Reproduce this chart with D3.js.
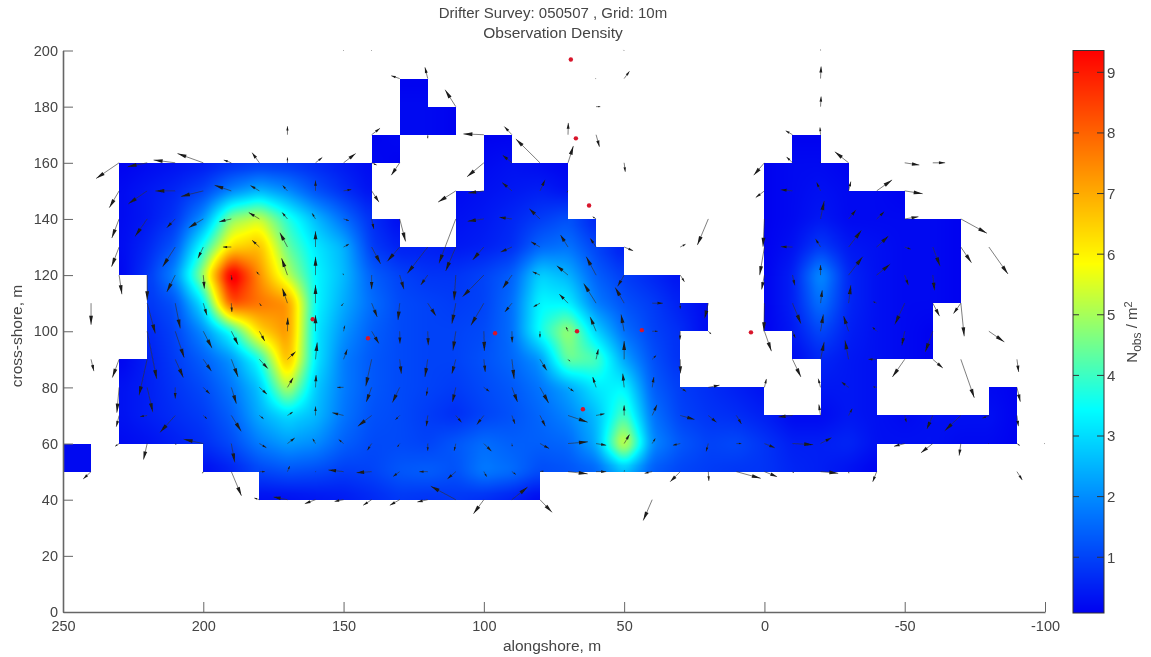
<!DOCTYPE html>
<html>
<head>
<meta charset="utf-8">
<script src="https://d3js.org/d3.v7.min.js"></script>
<style>
  html, body { margin: 0; background: #fff; }
  text { font-family: "Liberation Sans", Arial, sans-serif; fill: #444; }
</style>
</head>
<body>
<div id="chart"></div>
<script>
var w = 1151,
    h = 657;

// observation density on the 10 m grid, one list per cross-shore row.
// each span is [first alongshore x, value, value, ...] stepping 10 m toward negative x
var y190 = [[130, .1, .1]];
var y180 = [[130, .2, .2, .1]];
var y170 = [[140, .1, .2, .2, .1, .1, .1], [-10, .1, .1]];
var y160 = [[230, .1, .2, .3, .4, .6, .7, .7, .6, .4, .2, .1], [100, .2, .3, .2, .1], [0, .1, .2, .2, .1]];
var y150 = [[230, .2, .4, .6, 1, 1.9, 2.5, 2, 1.2, .7, .3], [110, .2, .3, .4, .5, .3], [0, .1, .2, .3, .2, .2, .1]];
var y140 = [[230, .2, .4, .8, 2.1, 4.8, 5.4, 3.8, 2.6, 1.6, .7, .2], [110, .3, .4, .6, .9, 1.2, .5], [0, .1, .2, .4, .2, .2, .2, .2, .1]];
var y130 = [[230, .2, .6, 1.3, 3.7, 6.3, 6.8, 4.4, 3.2, 2.5, .9, .5, .5, .4, .5, .7, 1.5, 1.7, 1, .4], [0, .1, .3, .9, .4, .3, .2, .2, .1]];
var y120 = [[230, .1, .8, 2, 5, 10, 7.4, 5.2, 3.4, 2.6, 1.4, 1, .8, .8, 1, 1.4, 2.9, 2.5, 1.4, .9, .6, .3], [0, .1, .5, 2.1, .6, .3, .2, .2, .1]];
var y110 = [[220, .8, 1.2, 3.2, 8.4, 7.8, 7.4, 3.4, 2.4, 1.6, 1.1, 1, .9, 1, 1.6, 3.4, 3.3, 1.8, 1.2, .9, .5, .2], [0, .1, .5, 1.7, .6, .3, .2, .2, .1]];
var y100 = [[220, .6, 1, 2, 3.6, 6.4, 7.4, 3.2, 2.1, 1.4, 1.1, 1, 1, 1.1, 1.6, 3.6, 5, 2.9, 1.6, 1, .7, .2], [0, .1, .4, 1.1, .5, .3, .2, .1]];
var y90 = [[230, .1, .5, .9, 1.4, 2.1, 3.6, 7, 3.2, 1.8, 1.3, 1.1, 1, 1, 1.2, 1.5, 2.1, 4.5, 4.2, 2.3, 1.2, .7], [-10, .2, .6, .4, .3, .2, .1]];
var y80 = [[230, .3, .5, .8, 1.1, 1.7, 2.7, 5.3, 2.8, 1.8, 1.3, 1.1, 1, .9, 1.1, 1.3, 1.7, 2.3, 3.2, 3.4, 1.4, .9, .7, .5, .3], [-20, .4, .4, .3], [-80, .2, .1]];
var y70 = [[230, .3, .5, .7, .9, 1.4, 2.4, 3, 2.6, 1.7, 1.2, 1.1, .9, .7, 1, 1.2, 1.5, 1.9, 2.6, 4.2, 1.7, 1, .8, .7, .5, .2, .2, .4, .3, .2, .3, .3, .3, .1]];
var y60 = [[250, .2, .2, .2, .3, .5, .7, 1.1, 1.8, 2.2, 2, 1.4, 1.1, 1.1, 1, 1.3, 1.6, 1.4, 1.4, 1.5, 2.4, 5.7, 2, 1.3, 1, 1.1, .8, .5, .5, .6, .3, .3, .3, .2, .2, .1]];
var y50 = [[250, .2, .2], [200, .2, .5, 1, 1.2, 1.1, .9, 1, 1.3, 1.4, 1.2, 1.8, 1.6, 1.1, 1.2, 1.4, 2.4, 1.3, 1, .9, .8, .8, .6, .5, .3, .1]];
var y40 = [[180, .2, .2, .3, .4, .6, .8, .7, .8, .6, .4, .1]];

var densityRows = [[190, y190], [180, y180], [170, y170], [160, y160], [150, y150], [140, y140], [130, y130],
  [120, y120], [110, y110], [100, y100], [90, y90], [80, y80], [70, y70], [60, y60], [50, y50], [40, y40]];

// mean drift vectors: [x, y, u, v], all in metres, tail on the grid node
var drift = [
  [150,200,.2,0],[140,200,.2,0],[60,190,.2,0],[50,200,.2,.2],[-20,200,0,.3],
  [130,190,3,1],[120,190,1,4],[50,190,-1.9,2.6],[-20,190,-.2,4.3],
  [110,180,3.8,6],[60,180,-1.5,0],[-20,180,-.2,3.6],
  [170,170,0,3],[140,170,-3,2.3],[120,170,0,-1.3],[100,170,7.3,.3],[90,170,2.7,2.9],[70,170,-.1,4.2],[60,170,-1.2,-4.3],[-20,170,.2,2.6],[-10,170,2.4,1.4],
  [230,160,8.2,-5.6],[220,160,7,-1.4],[210,160,7.7,1],[200,160,9.2,3.3],[190,160,2.7,1],[180,160,2.6,3.6],[170,160,0,1.9],[160,160,-2.4,1.9],[150,160,-4.3,3.3],[140,160,-1.8,-.8],[130,160,3,-4.4],
  [100,160,6,-5],[90,160,3.3,2.7],[80,160,8.6,8.5],[70,160,-1.9,6],[50,160,-.4,-3.2],[0,160,3.8,-4.4],[-10,160,2.1,2.1],[-20,160,.1,.3],[-30,160,4.9,3.9],[-50,160,-5.2,-.8],[-60,160,-4.4,0],
  [230,150,3.5,-6],[220,150,6.7,-4.6],[210,150,7.1,0],[200,150,8,-2],[190,150,6,2],[180,150,3.2,1.9],[170,150,1.7,1.9],[160,150,0,3.7],[150,150,-2.8,.5],[140,150,-2.6,-4],
  [110,150,6.3,-4],[100,150,5.6,-.8],[90,150,3.5,3],[80,150,-1.8,3.9],[70,150,.4,-.5],[0,150,3.1,-2.4],[-10,150,4.2,.4],[-20,150,1.4,3],[-30,150,-.8,3.3],[-40,150,-5.5,3.9],[-50,150,-6.4,-1],
  [230,140,2.6,-6.8],[220,140,4.3,-6.2],[210,140,3,-3.1],[200,140,5.2,-3.1],[190,140,4.3,-1],[180,140,3.8,2.3],[170,140,1.9,2.3],[160,140,1.2,2],[150,140,-1.9,-.6],[140,140,-.8,-3.6],[130,140,-2.1,-8],
  [110,140,6,-15.8],[100,140,5.8,-.8],[90,140,4.5,.6],[80,140,3.8,3.6],[60,140,1.2,.8],[20,140,3.9,-9.3],[0,140,.5,-9.9],[-20,140,-1.3,6.4],[-30,140,-2.6,3.2],[-40,140,-2.7,2.6],[-50,140,-4.9,.8],[-70,140,-9.3,-5.1],
  [230,130,2.7,-7],[210,130,4.5,-7],[200,130,1.9,-4],[190,130,3,0],[180,130,2.6,2.4],[170,130,2.7,5.1],[160,130,0,5.6],[150,130,-1.9,1],[140,130,-3.2,-6],[130,130,4.4,-5.1],
  [120,130,7.3,-9.4],[110,130,3.6,-8.5],[100,130,4,-4.6],[90,130,4,-1.8],[80,130,3.2,1.9],[70,130,2.7,4.3],[60,130,2.1,3.1],[50,130,-3.2,-1.3],[30,130,-1.9,1],
  [0,130,1.7,-10],[-10,130,4.2,.1],[-20,130,1.8,2.9],[-30,130,-4.6,6],[-40,130,-4.2,3.9],[-50,130,-2.1,-.8],[-60,130,-2.6,-6.8],[-70,130,-3.8,-5.6],[-80,130,-6.8,-9.6],
  [230,120,-1,-6.8],[220,120,0,-9],[210,120,3,-6],[200,120,-.4,-4.8],[190,120,-.2,-1.8],[180,120,1,1.2],[170,120,2.1,6],[160,120,0,6.5],[150,120,.2,.5],[140,120,0,-5],
  [130,120,-1.5,-5],[120,120,2.5,-3.5],[110,120,.6,-9],[100,120,7.6,-7.7],[90,120,3.3,-4.7],[80,120,2.6,1.2],[70,120,4,3.3],[60,120,3.5,6.5],[50,120,2.3,-4],[30,120,-1.5,-2.4],
  [0,120,1,-5.1],[-10,120,-.8,-3.6],[-20,120,0,3.6],[-30,120,-5,6.5],[-40,120,-4.8,3.9],[-50,120,-1.3,-3.6],[-60,120,-.6,-5.4],
  [240,110,0,-7.7],[220,110,-2.9,-10.8],[210,110,-1.8,-9],[200,110,-1.3,-4.3],[190,110,-.2,-3.1],[180,110,-.7,-1],[170,110,1.8,5.2],[160,110,0,6.5],[150,110,.8,-1],[140,110,-2,-4.9],
  [130,110,.6,-6],[120,110,-2.9,-4.5],[110,110,1.4,-7.3],[100,110,4.6,-7.9],[90,110,2.5,-3.1],[80,110,2.3,-1.3],[70,110,3.1,3.2],[60,110,4.4,7],[50,110,3.2,5.6],[40,110,-3.8,0],[30,110,0,-2],[20,110,1.3,-5.4],
  [0,110,.2,-10],[-10,110,-3,-7.3],[-20,110,-.6,4.6],[-30,110,-.8,6.4],[-40,110,1.2,.5],[-50,110,3.5,-7.5],[-60,110,-2.4,-4.6],[-70,110,-1.2,-11.8],[-70,110,2.6,-3.7],
  [220,100,-3.4,-17],[210,100,-3.2,-9.4],[200,100,-3.1,-6],[190,100,-2.4,-4.8],[180,100,-1.9,-3.5],[170,100,-.1,4.8],[160,100,0,5.7],[150,100,-.4,2],[140,100,-2.6,-4.4],
  [130,100,-.1,-4.4],[120,100,-.2,-5],[110,100,1,-6.8],[100,100,-.2,-7],[90,100,-.1,-4],[80,100,0,-2.2],[70,100,.7,1.5],[60,100,2.1,5.1],[50,100,1.1,6],[40,100,-2,0],[30,100,.1,-3],[20,100,-1,-1],
  [0,100,-2.5,-7.1],[-10,100,-1,-2.4],[-20,100,-1,6],[-30,100,1.8,5.4],[-40,100,1.5,1.5],[-50,100,1,-5],[-60,100,2.7,-7.4],[-80,100,-5.5,-3.8],
  [240,90,-1,-4.2],[230,90,2.4,-6.5],[220,90,2.9,-12.8],[210,90,-2.9,-6.5],[200,90,-2.9,-4.2],[190,90,-2.4,-6.3],[180,90,-3,-3.3],[170,90,-2.9,2.7],[160,90,-.6,6],[150,90,-1.3,3.5],[140,90,2.1,-9.6],
  [130,90,-.6,-5.1],[120,90,1,-6.3],[110,90,1.4,-5.1],[100,90,-.5,-4.5],[90,90,-.8,-7],[80,90,-2.4,-3.9],[70,90,-.7,-.7],[60,90,-.8,3.6],[50,90,0,6.5],[40,90,-1.4,1.4],[30,90,-.1,-5],
  [-10,90,-3,-6.3],[-20,90,-1.3,6.2],[-30,90,1.3,6.8],[-40,90,3,0],[-50,90,4.4,-6.3],[-60,90,-3.6,-3.1],[-70,90,-4.8,-13.7],[-90,90,-.6,-4.5],
  [230,80,.8,-9],[220,80,-2,-8.8],[210,80,0,-4],[200,80,-2.3,-2.3],[190,80,-1.8,-5.8],[180,80,-2.7,-2.4],[170,80,-2,3.4],[160,80,-.2,4.4],[150,80,2.3,0],[140,80,1.9,-5.2],
  [130,80,2.6,-5.4],[120,80,.5,-3],[110,80,1.2,-5.2],[100,80,-1.9,-1.4],[90,80,-2,-5.2],[80,80,-3.1,-5.6],[70,80,-2,-1.4],[60,80,1.2,3.7],[50,80,.5,4.9],[40,80,-.6,3.7],[30,80,-2.1,-1.5],[20,80,-4,.8],
  [0,80,-.7,3],[-20,80,.8,3.1],[-30,80,2.5,1.9],[-40,80,1.2,.2],[-90,80,-1.2,-5.1],
  [230,70,1,-4],[220,70,2.5,-.4],[210,70,5.4,-6],[200,70,-1.3,-1.2],[190,70,-3.5,-5.6],[180,70,-1.5,-1.2],[170,70,-1.9,1.2],[160,70,0,3.2],[150,70,4,1],[140,70,4.9,-3.8],
  [130,70,1.5,-1.5],[120,70,.5,-3.8],[110,70,-2,-2.4],[100,70,2.5,-3.2],[90,70,-1.1,-3],[80,70,-1.9,-3.8],[70,70,-7,-2.4],[60,70,-3,.6],[50,70,0,3.6],[40,70,-1.7,3.8],[30,70,-5.1,-1.4],[20,70,-2.9,-2.4],[10,70,-1.8,-3],
  [-10,70,5,-.5],[-20,70,.6,3.9],[-30,70,-1.3,2.4],[-50,70,-.6,-2.4],[-60,70,2.1,-4.8],[-70,70,5.7,-5.4],[-80,70,2.3,-1],[-90,70,-.5,-3.8],
  [230,60,1.4,-1],[220,60,1.3,-5.7],[210,60,-.3,-.4],[200,60,7,1.5],[190,60,-1.2,-6.7],[180,60,-2.5,-1.5],[170,60,-2.6,2],[160,60,1,1.7],[150,60,1.7,1.4],[140,60,1.5,-2.4],
  [130,60,.8,-1.2],[120,60,0,-2.6],[110,60,.6,-2.6],[100,60,-2.7,-2.7],[90,60,-.1,-1],[80,60,-3.3,-1.8],[70,60,-7.1,.6],[60,60,-3.6,-.6],[50,60,-1.9,3.2],[40,60,-1.1,1.8],[30,60,2.6,-.6],[20,60,.8,-2.8],[10,60,-1.8,0],
  [0,60,-3.7,-1.5],[-10,60,-7.4,-.4],[-20,60,-3.9,2.1],[-50,60,3.8,-1],[-60,60,4.2,-3.3],[-70,60,.6,-4.3],[-80,60,.2,0],[-90,60,-1,-.7],[-100,60,.2,0],
  [240,50,2.8,-2.6],[200,50,.3,-.6],[190,50,-3.6,-8.6],[180,50,-2,0],[170,50,-.8,2],[160,50,-.2,.1],[150,50,5.4,.6],[140,50,5.4,-.4],
  [130,50,2.3,-1.7],[120,50,3,0],[110,50,3,-2.6],[100,50,-1,-1.8],[90,50,-1.4,-1],[80,50,-1.3,.2],[70,50,-7,-.8],[60,50,-3.6,0],[50,50,-.1,.4],[40,50,2.7,-.6],[30,50,3.6,-3.6],[20,50,-.2,-3.3],[10,50,-8.7,-2.4],
  [0,50,-4.5,-1.8],[-10,50,-.4,-.5],[-20,50,-6.3,-.6],[-30,50,-.1,-.6],[-40,50,1.4,-3.6],[-90,50,-1.9,-3],
  [180,40,1.8,.6],[170,40,5,1],[160,40,3.8,-1.4],[150,40,3.2,-.6],[140,40,3,-2],[130,40,3.5,-2],[120,40,3.7,-.8],[110,40,8.9,4.8],[100,40,3.7,-5],[90,40,-5.6,4.5],[80,40,-4.3,-4.5],[40,40,3.2,-7.4]
];

// red survey markers
var markerX = [69, 67.2, 62.5, 161, 141.3, 96, 66.8, 43.7, 64.7, 4.8];
var markerY = [196.8, 168.7, 144.8, 104.3, 97.5, 99.3, 100, 100.4, 72.2, 99.6];

// colour stops
var colorValues = [0.08, 1.75, 3.45, 4.65, 5.85, 7.6, 9.36];
var colorStops = ["#0000f0", "#0078ff", "#00ffff", "#80ff80", "#ffff00", "#ff8000", "#ff0000"];

var xTicks = [250, 200, 150, 100, 50, 0, -50, -100];
var yTicks = [0, 20, 40, 60, 80, 100, 120, 140, 160, 180, 200];
var barTicks = [1, 2, 3, 4, 5, 6, 7, 8, 9];

var x = d3.scaleLinear().domain([250, -100]).range([63, 1045]),
    y = d3.scaleLinear().domain([0, 200]).range([612, 50.5]),
    barY = d3.scaleLinear().domain([0.08, 9.36]).range([613, 50.5]),
    color = d3.scaleLinear().domain(colorValues).range(colorStops).clamp(true);

var svg = d3.select("#chart").append("svg")
    .attr("width", w)
    .attr("height", h)
    .style("display", "block");

var defs = svg.append("defs");
softFilter("soft", 0.55);
softFilter("softText", 0.35);

function softFilter(id, sd) {
  defs.append("filter")
      .attr("id", id)
      .attr("x", "-5%").attr("y", "-5%").attr("width", "110%").attr("height", "110%")
    .append("feGaussianBlur")
      .attr("stdDeviation", sd);
}

// node lookup
var nodes = new Map();
densityRows.forEach(function(row) {
  row[1].forEach(function(span) {
    span.slice(1).forEach(function(v, i) {
      nodes.set(key(span[0] - i * 10, row[0]), v);
    });
  });
});

function key(a, b) { return a + "," + b; }

// shaded field: a cell is painted only when its four nodes exist.
// the bilinear surface gets a masked box smoothing so cell seams don't show
function drawField() {
  var x0 = Math.round(x.range()[0]), x1 = Math.round(x.range()[1]),
      y0 = Math.round(y.range()[1]), y1 = Math.round(y.range()[0]),
      cw = x1 - x0, ch = y1 - y0,
      vals = new Float32Array(cw * ch),
      mask = new Uint8Array(cw * ch);

  for (var py = 0; py < ch; py++) {
    for (var px = 0; px < cw; px++) {
      var gx = x.invert(px + x0 + 0.5), gy = y.invert(py + y0 + 0.5),
          xl = Math.floor(gx / 10) * 10, yl = Math.floor(gy / 10) * 10,
          a = nodes.get(key(xl, yl)), b = nodes.get(key(xl + 10, yl)),
          c = nodes.get(key(xl, yl + 10)), d = nodes.get(key(xl + 10, yl + 10));
      if (a === undefined || b === undefined || c === undefined || d === undefined) continue;
      var tx = (gx - xl) / 10, ty = (gy - yl) / 10;
      vals[py * cw + px] = (a * (1 - tx) + b * tx) * (1 - ty) + (c * (1 - tx) + d * tx) * ty;
      mask[py * cw + px] = 1;
    }
  }

  vals = smooth(vals, mask, cw, ch, 1, 0, 6);
  vals = smooth(vals, mask, cw, ch, 0, 1, 6);

  var canvas = document.createElement("canvas");
  canvas.width = cw;
  canvas.height = ch;
  var ctx = canvas.getContext("2d"),
      img = ctx.createImageData(cw, ch);
  for (var i = 0; i < cw * ch; i++) {
    if (!mask[i]) continue;
    var rgb = d3.rgb(color(vals[i]));
    img.data[i * 4] = rgb.r;
    img.data[i * 4 + 1] = rgb.g;
    img.data[i * 4 + 2] = rgb.b;
    img.data[i * 4 + 3] = 255;
  }
  ctx.putImageData(img, 0, 0);
  svg.append("image")
      .attr("x", x0)
      .attr("y", y0)
      .attr("width", cw)
      .attr("height", ch)
      .attr("href", canvas.toDataURL());
}

function smooth(vals, mask, cw, ch, sx, sy, r) {
  var out = new Float32Array(cw * ch);
  for (var py = 0; py < ch; py++) {
    for (var px = 0; px < cw; px++) {
      if (!mask[py * cw + px]) continue;
      var sum = 0, n = 0;
      for (var k = -r; k <= r; k++) {
        var qx = px + k * sx, qy = py + k * sy;
        if (qx < 0 || qy < 0 || qx >= cw || qy >= ch || !mask[qy * cw + qx]) continue;
        sum += vals[qy * cw + qx];
        n++;
      }
      out[py * cw + px] = sum / n;
    }
  }
  return out;
}
drawField();

// markers
svg.append("g").selectAll("circle")
    .data(markerX)
    .enter().append("circle")
    .attr("cx", function(d) { return x(d); })
    .attr("cy", function(d, i) { return y(markerY[i]); })
    .attr("r", 2.2)
    .attr("fill", "#d8142c")
    .attr("filter", "url(#softText)");

// arrows
var arrows = svg.append("g").attr("filter", "url(#soft)");

arrows.selectAll("line")
    .data(drift)
    .enter().append("line")
    .attr("x1", function(d) { return x(d[0]); })
    .attr("y1", function(d) { return y(d[1]); })
    .attr("x2", function(d) { return x(d[0] + d[2]); })
    .attr("y2", function(d) { return y(d[1] + d[3]); })
    .attr("stroke", "#333")
    .attr("stroke-opacity", 0.7)
    .attr("stroke-width", 0.9);

arrows.selectAll("path")
    .data(drift)
    .enter().append("path")
    .attr("d", arrowHead)
    .attr("fill", "#1a1a1a");

function arrowHead(d) {
  var hx = x(d[0] + d[2]), hy = y(d[1] + d[3]),
      dx = hx - x(d[0]), dy = hy - y(d[1]),
      len = Math.sqrt(dx * dx + dy * dy) || 1,
      ux = dx / len, uy = dy / len,
      hl = Math.min(len * 0.5, 9),
      hw = Math.min(len * 0.1, 1.6) + 0.3,
      p = d3.path();
  p.moveTo(hx, hy);
  p.lineTo(hx - ux * hl - uy * hw, hy - uy * hl + ux * hw);
  p.lineTo(hx - ux * hl + uy * hw, hy - uy * hl - ux * hw);
  p.closePath();
  return p.toString();
}

// axes
var axes = svg.append("g").attr("filter", "url(#softText)");

var gx = axes.append("g")
    .attr("transform", "translate(0,612)")
    .call(d3.axisBottom(x).tickValues(xTicks).tickFormat(String).tickSizeInner(-10).tickSizeOuter(0).tickPadding(9));
var gy = axes.append("g")
    .attr("transform", "translate(63,0)")
    .call(d3.axisLeft(y).tickValues(yTicks).tickFormat(String).tickSizeInner(-10).tickSizeOuter(0).tickPadding(5));

[gx, gy].forEach(function(g) {
  g.selectAll("path, line").attr("stroke", "#666");
  g.select("path").attr("stroke-width", 1.6);
  g.selectAll("text").attr("font-size", 14.5).style("font-family", "Liberation Sans").style("fill", "#444");
});

// titles
var label = svg.append("g").attr("filter", "url(#softText)");
label.append("text").attr("x", 553).attr("y", 18).attr("text-anchor", "middle").attr("font-size", 15).text("Drifter Survey: 050507 , Grid: 10m");
label.append("text").attr("x", 553).attr("y", 38).attr("text-anchor", "middle").attr("font-size", 15.5).text("Observation Density");
label.append("text").attr("x", 552).attr("y", 651).attr("text-anchor", "middle").attr("font-size", 15.5).text("alongshore, m");
label.append("text").attr("transform", "translate(22,336)rotate(-90)").attr("text-anchor", "middle").attr("font-size", 15.5).text("cross-shore, m");

// colour bar
var barLeft = 1073, barRight = 1104;
var bar = svg.append("g");

bar.selectAll("rect.step")
    .data(d3.range(51, 613))
    .enter().append("rect")
    .attr("class", "step")
    .attr("x", barLeft)
    .attr("y", function(d) { return d; })
    .attr("width", barRight - barLeft)
    .attr("height", function(d) { return d === 612 ? 1 : 2; })
    .attr("shape-rendering", "crispEdges")
    .attr("fill", function(d) { return color(barY.invert(d)); });

bar.append("rect")
    .attr("x", barLeft)
    .attr("y", barY.range()[1])
    .attr("width", barRight - barLeft)
    .attr("height", barY.range()[0] - barY.range()[1])
    .attr("fill", "none")
    .attr("stroke", "#333");

bar.selectAll("line.tick-l")
    .data(barTicks)
    .enter().append("line")
    .attr("class", "tick-l")
    .attr("x1", barLeft).attr("x2", barLeft + 6)
    .attr("y1", barY).attr("y2", barY)
    .attr("stroke", "#333");

bar.selectAll("line.tick-r")
    .data(barTicks)
    .enter().append("line")
    .attr("class", "tick-r")
    .attr("x1", barRight - 7).attr("x2", barRight)
    .attr("y1", barY).attr("y2", barY)
    .attr("stroke", "#333");

bar.selectAll("text.tick")
    .data(barTicks)
    .enter().append("text")
    .attr("class", "tick")
    .attr("x", barRight + 3)
    .attr("y", barY)
    .attr("dy", "0.36em")
    .attr("font-size", 15)
    .attr("filter", "url(#softText)")
    .text(function(d) { return d; });

var barLabel = svg.append("text")
    .attr("transform", "translate(1137,332)rotate(-90)")
    .attr("text-anchor", "middle")
    .attr("font-size", 15)
    .attr("filter", "url(#softText)");
barLabel.append("tspan").text("N");
barLabel.append("tspan").attr("dy", 4).attr("font-size", 12).text("obs");
barLabel.append("tspan").attr("dy", -4).text(" / m");
barLabel.append("tspan").attr("dy", -5).attr("font-size", 11).text("2");
</script>
</body>
</html>
